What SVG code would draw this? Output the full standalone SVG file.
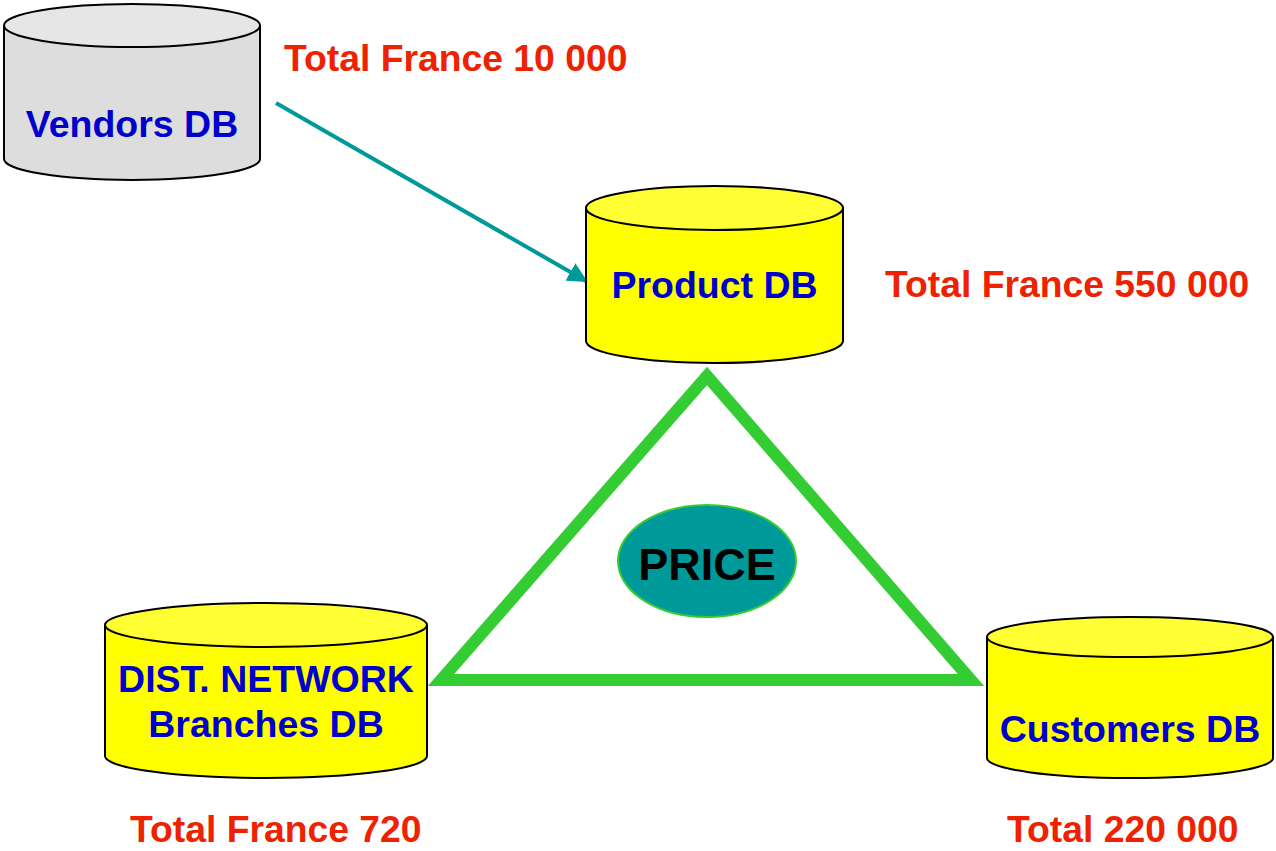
<svg xmlns="http://www.w3.org/2000/svg" width="1276" height="851" viewBox="0 0 1276 851">
<style>
.cyl{stroke:#000;stroke-width:2}
.lbl{font-family:"Liberation Sans",Arial,sans-serif;font-weight:bold;font-size:37.5px;fill:#0000cc;text-anchor:middle}
.tot{font-family:"Liberation Sans",Arial,sans-serif;font-weight:bold;font-size:37.3px;fill:#ee2200}
</style>
<defs>
<marker id="ah" viewBox="0 0 10 10" refX="9" refY="5" markerWidth="5" markerHeight="5" orient="auto" markerUnits="strokeWidth">
<path d="M0,0 L10,5 L0,10 z" fill="#009999"/>
</marker>
</defs>
<rect width="1276" height="851" fill="#fff"/>
<g id="connectors">
<line x1="276" y1="103" x2="586" y2="281" stroke="#009999" stroke-width="4" marker-end="url(#ah)"/>
<polygon points="707,376 441,680 971,680" fill="none" stroke="#33cc33" stroke-width="12"/>
</g>
<g id="vendors">
<path class="cyl" fill="#dddddd" d="M4,25.5 L4,159 A128,21 0 0 0 260,159 L260,25.5"/>
<ellipse class="cyl" cx="132" cy="25.5" rx="128" ry="21.5" fill="#e6e6e6"/>
<text class="lbl" x="132" y="137">Vendors DB</text>
</g>
<g id="product">
<path class="cyl" fill="#ffff00" d="M586,208 L586,341 A128.5,22 0 0 0 843,341 L843,208"/>
<ellipse class="cyl" cx="714.5" cy="208" rx="128.5" ry="22" fill="#ffff33"/>
<text class="lbl" x="714.5" y="298">Product DB</text>
</g>
<g id="dist">
<path class="cyl" fill="#ffff00" d="M105,625 L105,756 A161,22 0 0 0 427,756 L427,625"/>
<ellipse class="cyl" cx="266" cy="625" rx="161" ry="22" fill="#ffff33"/>
<text class="lbl" x="266" y="692">DIST. NETWORK</text>
<text class="lbl" x="266" y="737">Branches DB</text>
</g>
<g id="customers">
<path class="cyl" fill="#ffff00" d="M987,637 L987,758 A143,20 0 0 0 1273,758 L1273,637"/>
<ellipse class="cyl" cx="1130" cy="637" rx="143" ry="20" fill="#ffff33"/>
<text class="lbl" x="1130" y="742">Customers DB</text>
</g>
<g id="price">
<ellipse cx="707" cy="561" rx="89" ry="56" fill="#009999" stroke="#33cc33" stroke-width="2"/>
<text x="707" y="580" font-family="Liberation Sans,Arial,sans-serif" font-weight="bold" font-size="45" text-anchor="middle" fill="#000">PRICE</text>
</g>
<g id="totals">
<text class="tot" x="284" y="71">Total France 10 000</text>
<text class="tot" x="885" y="297">Total France 550 000</text>
<text class="tot" x="130" y="842">Total France 720</text>
<text class="tot" x="1007" y="842">Total 220 000</text>
</g>
</svg>
